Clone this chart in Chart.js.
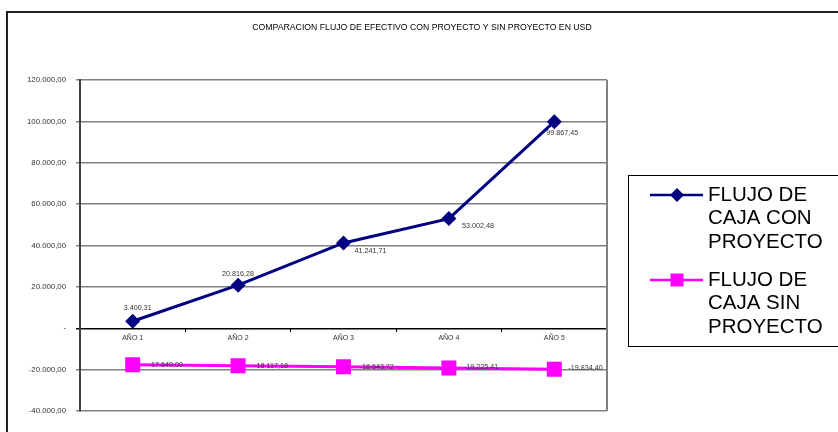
<!DOCTYPE html>
<html>
<head>
<meta charset="utf-8">
<script src="https://cdn.jsdelivr.net/npm/chart.js@4/dist/chart.umd.min.js"></script>
<style>
  html, body { margin: 0; padding: 0; background: #fff; }
  #wrap { width: 838px; height: 432px; }
</style>
</head>
<body>
<div id="wrap"><canvas id="chart" width="838" height="432"></canvas></div>
<script>
// Chart: cash flow with / without project, USD
const years = ['AÑO 1', 'AÑO 2', 'AÑO 3', 'AÑO 4', 'AÑO 5'];
const conProyecto = [3400.31, 20816.28, 41241.71, 53002.48, 99867.45];
const sinProyecto = [-17640.00, -18117.18, -18643.72, -19225.41, -19834.40];
const seriesNames = ['FLUJO DE CAJA CON PROYECTO', 'FLUJO DE CAJA SIN PROYECTO'];
const chartTitle = 'COMPARACION FLUJO DE EFECTIVO CON PROYECTO Y SIN PROYECTO EN USD';

const FONT = '"Liberation Sans", Arial, sans-serif';

// 1.234,56 style
function fmt(v) {
  const neg = v < 0;
  let [i, d] = Math.abs(v).toFixed(2).split('.');
  i = i.replace(/\B(?=(\d{3})+(?!\d))/g, '.');
  return (neg ? '-' : '') + i + ',' + d;
}

// where each value label sits, relative to its point (left aligned text)
const labelOffsets = [
  [[-9, -13], [-16, -11], [11, 8], [13, 7], [-8, 11]],
  [[16, 0], [16, 0], [16, 0], [15, -1], [14, -1]]
];

const decorations = {
  id: 'decorations',
  beforeDraw(chart) {
    const ctx = chart.ctx;
    ctx.save();
    // outer frame
    ctx.strokeStyle = '#222';
    ctx.lineWidth = 2;
    ctx.beginPath();
    ctx.moveTo(840, 12);
    ctx.lineTo(7, 12);
    ctx.lineTo(7, 440);
    ctx.stroke();
    // title
    ctx.fillStyle = '#000';
    ctx.font = '8.7px ' + FONT;
    ctx.textAlign = 'center';
    ctx.textBaseline = 'middle';
    ctx.fillText(chartTitle, 422, 28);
    ctx.restore();
  },
  afterDraw(chart) {
    const ctx = chart.ctx;
    const a = chart.chartArea;
    ctx.save();
    // right border of plot
    ctx.strokeStyle = '#808080';
    ctx.lineWidth = 2;
    ctx.beginPath();
    ctx.moveTo(a.right, a.top);
    ctx.lineTo(a.right, a.bottom);
    ctx.stroke();
    // value labels
    ctx.font = '7.2px ' + FONT;
    ctx.fillStyle = '#333';
    ctx.textAlign = 'left';
    ctx.textBaseline = 'middle';
    chart.data.datasets.forEach((ds, di) => {
      chart.getDatasetMeta(di).data.forEach((pt, i) => {
        const off = labelOffsets[di][i];
        ctx.fillText(fmt(ds.data[i]), pt.x + off[0], pt.y + off[1]);
      });
    });
    // legend box
    ctx.strokeStyle = '#000';
    ctx.lineWidth = 1;
    ctx.strokeRect(628.5, 175.5, 230, 171);
    ctx.font = '20.5px ' + FONT;
    ctx.fillStyle = '#000';
    let y = 195;
    chart.data.datasets.forEach((ds, di) => {
      const words = ds.label.split(' ');
      const lines = [];
      let cur = '';
      words.forEach(w => {
        const t = cur ? cur + ' ' + w : w;
        if (ctx.measureText(t).width > 125 && cur) { lines.push(cur); cur = w; } else cur = t;
      });
      lines.push(cur);
      ctx.strokeStyle = ds.borderColor;
      ctx.lineWidth = 2.5;
      ctx.beginPath();
      ctx.moveTo(650, y);
      ctx.lineTo(703, y);
      ctx.stroke();
      ctx.fillStyle = ds.backgroundColor;
      ctx.beginPath();
      if (ds.pointStyle === 'rectRot') {
        ctx.moveTo(677, y - 7);
        ctx.lineTo(684, y);
        ctx.lineTo(677, y + 7);
        ctx.lineTo(670, y);
        ctx.closePath();
      } else {
        ctx.rect(670.5, y - 6.5, 13, 13);
      }
      ctx.fill();
      ctx.fillStyle = '#000';
      lines.forEach((ln, k) => ctx.fillText(ln, 708, y + k * 23.5));
      y += lines.length * 23.5 + 14.5;
    });
    ctx.restore();
  }
};

new Chart(document.getElementById('chart'), {
  type: 'line',
  data: {
    labels: years,
    datasets: [
      {
        label: seriesNames[0],
        data: conProyecto,
        borderColor: '#000080',
        backgroundColor: '#000080',
        borderWidth: 3,
        pointStyle: 'rectRot',
        pointRadius: 7.5,
        pointHoverRadius: 7.5,
        pointBorderWidth: 0
      },
      {
        label: seriesNames[1],
        data: sinProyecto,
        borderColor: '#FF00FF',
        backgroundColor: '#FF00FF',
        borderWidth: 3,
        pointStyle: 'rect',
        pointRadius: 10.6,
        pointHoverRadius: 10.6,
        pointBorderWidth: 0
      }
    ]
  },
  options: {
    responsive: false,
    animation: false,
    layout: { padding: { left: 0, top: 80, right: 231, bottom: 21 } },
    plugins: {
      legend: { display: false },
      title: { display: false },
      tooltip: { enabled: false }
    },
    scales: {
      x: {
        position: { y: 0 },
        offset: true,
        grid: { offset: true, drawOnChartArea: false, drawTicks: true, tickLength: 3, color: '#000' },
        border: { color: '#000', width: 1 },
        ticks: { font: { family: FONT, size: 7 }, color: '#333', padding: 3, maxRotation: 0 }
      },
      y: {
        min: -40000,
        max: 120000,
        afterFit(scale) { scale.width = 80; },
        ticks: {
          stepSize: 20000,
          font: { family: FONT, size: 7.8 },
          color: '#333',
          padding: 10,
          callback: v => v === 0 ? '-' : fmt(v)
        },
        grid: {
          color: c => c.tick && c.tick.value === 0 ? '#000' : '#808080',
          lineWidth: 1.5,
          tickLength: 4
        },
        border: { color: '#404040', width: 2 }
      }
    }
  },
  plugins: [decorations]
});
</script>
</body>
</html>
